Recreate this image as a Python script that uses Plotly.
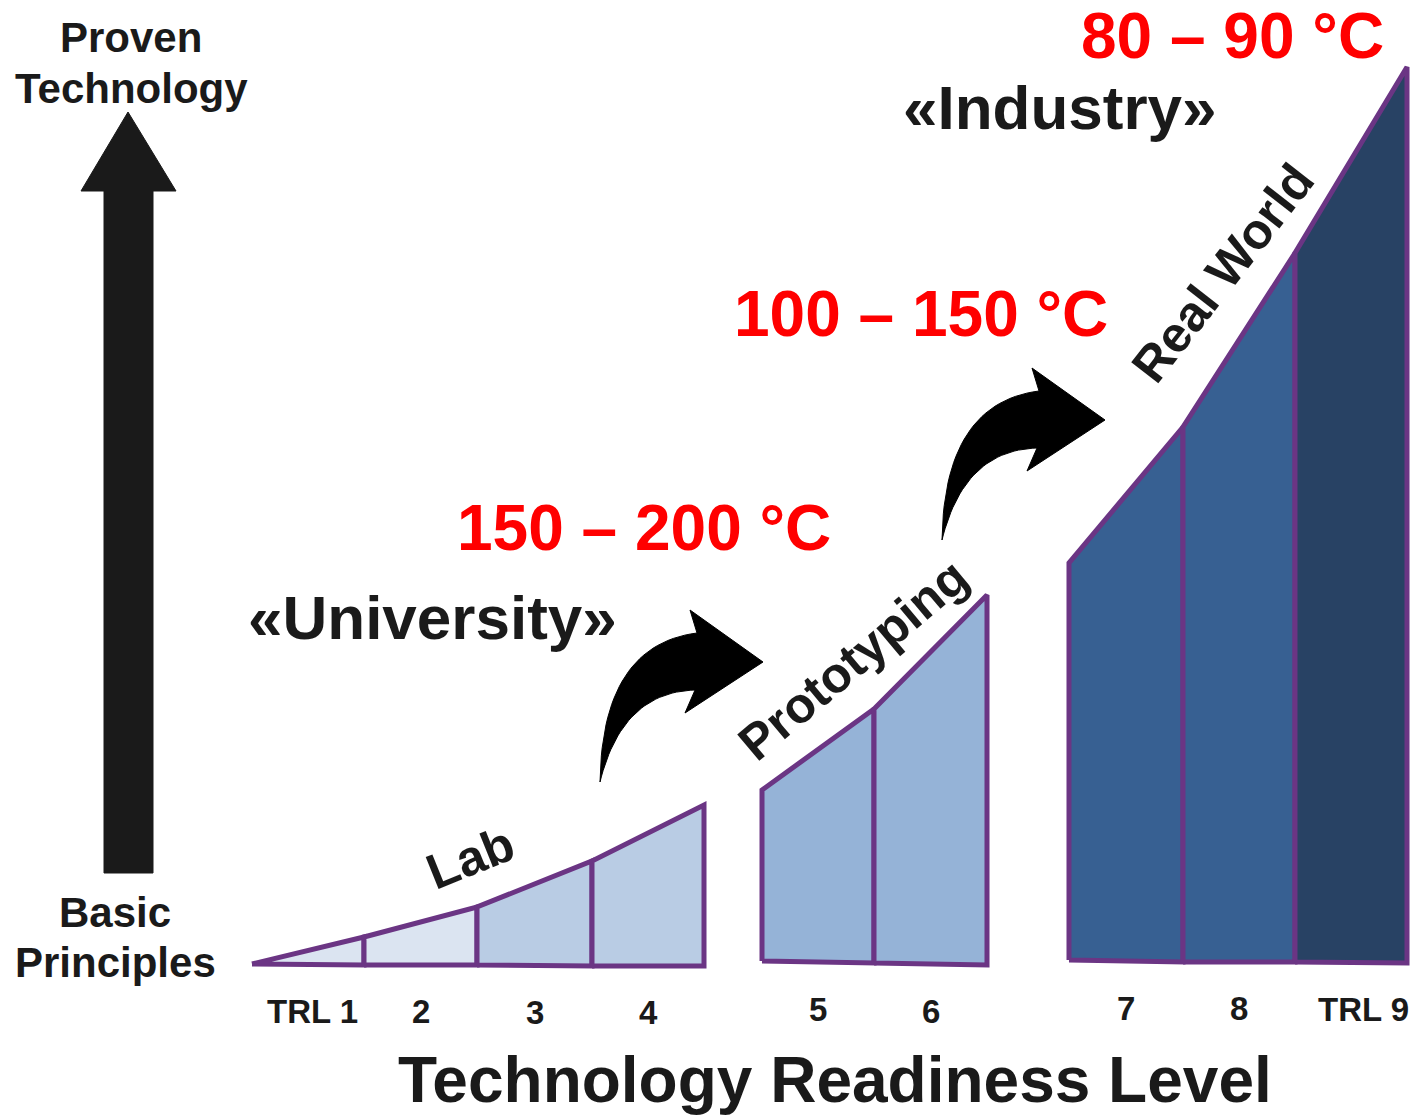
import plotly.graph_objects as go

# --- Technology Readiness Level stages -------------------------------------
trl_labels = ["TRL 1", "2", "3", "4", "5", "6", "7", "8", "TRL 9"]

# Three stage blocks: segment edge positions, top outline and base line
lab_edges = [252, 364, 477, 592, 704]
lab_tops = [964, 937, 907, 861, 805]
lab_base = [964, 965, 965, 966, 966]

proto_edges = [762, 874, 987]
proto_tops = [790, 709, 595]
proto_base = [961, 963, 965]

real_edges = [1069, 1183, 1295, 1407]
real_tops = [563, 427, 253, 67]
real_base = [960, 962, 962, 963]

segment_colors = ["#dbe4f1", "#dbe4f1", "#b9cce4", "#b9cce4",
                  "#95b3d7", "#95b3d7",
                  "#376092", "#376092", "#284264"]

stage_names = ["Lab", "Prototyping", "Real World"]
temperatures = ["150 – 200 °C", "100 – 150 °C", "80 – 90 °C"]
groups = ["«University»", "«Industry»"]
axis_ends = ["Proven", "Technology", "Basic", "Principles"]

OUTLINE = "#6b3584"
INK = "#1a1a1a"
FONT = "Arial, Liberation Sans, sans-serif"

fig = go.Figure()

# Stage polygons, one filled trapezoid per TRL segment
seg = 0
for edges, tops, base in [(lab_edges, lab_tops, lab_base),
                          (proto_edges, proto_tops, proto_base),
                          (real_edges, real_tops, real_base)]:
    for i in range(len(edges) - 1):
        xs = [edges[i], edges[i], edges[i + 1], edges[i + 1], edges[i]]
        ys = [base[i], tops[i], tops[i + 1], base[i + 1], base[i]]
        fig.add_trace(go.Scatter(
            x=xs, y=ys, mode="lines", fill="toself",
            fillcolor=segment_colors[seg],
            line=dict(color=OUTLINE, width=5),
            hoverinfo="skip", showlegend=False))
        # TRL label under the segment (end labels nudged outward)
        cx = (edges[i] + edges[i + 1]) / 2
        if seg == 0:
            cx += 4
        if seg == len(trl_labels) - 1:
            cx += 12
        fig.add_annotation(
            x=cx, y=max(base[i], base[i + 1]) + 46,
            text="<b>%s</b>" % trl_labels[seg], showarrow=False,
            font=dict(family=FONT, size=33, color=INK), xanchor="center",
            yanchor="middle")
        seg += 1

# Vertical "maturity" arrow on the left
fig.add_trace(go.Scatter(
    x=[104, 104, 81, 128, 176, 153, 153, 104],
    y=[873, 191, 191, 112, 191, 191, 873, 873],
    mode="lines", fill="toself", fillcolor=INK,
    line=dict(color=INK, width=1), hoverinfo="skip", showlegend=False))


def bezier(p0, c, p1, n=30):
    pts = []
    for k in range(n + 1):
        t = k / n
        x = (1 - t) ** 2 * p0[0] + 2 * (1 - t) * t * c[0] + t ** 2 * p1[0]
        y = (1 - t) ** 2 * p0[1] + 2 * (1 - t) * t * c[1] + t ** 2 * p1[1]
        pts.append((x, y))
    return pts


def curved_arrow(dx, dy):
    outer = bezier((600, 782), (602, 645), (697, 633))
    head = [(690, 610), (763, 662), (685, 713), (695, 690)]
    inner = bezier((695, 690), (622, 692), (600, 782))
    pts = outer + head + inner
    return [p[0] + dx for p in pts], [p[1] + dy for p in pts]


for dx, dy in [(0, 0), (342, -242)]:
    ax_, ay_ = curved_arrow(dx, dy)
    fig.add_trace(go.Scatter(
        x=ax_, y=ay_, mode="lines", fill="toself", fillcolor="#000000",
        line=dict(color="#000000", width=1), hoverinfo="skip",
        showlegend=False))

# Axis end labels
for txt, x, y in zip(axis_ends, [131, 131, 115, 115], [37, 88, 912, 962]):
    fig.add_annotation(x=x, y=y, text="<b>%s</b>" % txt, showarrow=False,
                       font=dict(family=FONT, size=42, color=INK),
                       xanchor="center", yanchor="middle")

# Stage names along the slopes
for name, x, y, ang in zip(stage_names, [470, 853, 1223], [858, 660, 273],
                           [-22, -40, -52]):
    fig.add_annotation(x=x, y=y, text="<b>%s</b>" % name, showarrow=False,
                       textangle=ang,
                       font=dict(family=FONT, size=50, color=INK),
                       xanchor="center", yanchor="middle")

# Operating temperature ranges
for t, x, y in zip(temperatures, [644, 921, 1232], [528, 314, 36]):
    fig.add_annotation(x=x, y=y, text="<b>%s</b>" % t, showarrow=False,
                       font=dict(family=FONT, size=64, color="#ff0000"),
                       xanchor="center", yanchor="middle")

# Institutional context
for g, x, y in zip(groups, [432, 1060], [617, 107]):
    fig.add_annotation(x=x, y=y, text="<b>%s</b>" % g, showarrow=False,
                       font=dict(family=FONT, size=62, color=INK),
                       xanchor="center", yanchor="middle")

# Horizontal axis title
fig.add_annotation(x=835, y=1080, text="<b>Technology Readiness Level</b>",
                   showarrow=False, font=dict(family=FONT, size=64, color=INK),
                   xanchor="center", yanchor="middle")

fig.update_layout(
    width=1416, height=1118,
    margin=dict(l=0, r=0, t=0, b=0),
    paper_bgcolor="white", plot_bgcolor="white",
    font=dict(family=FONT),
    xaxis=dict(range=[0, 1416], visible=False, fixedrange=True),
    yaxis=dict(range=[1118, 0], visible=False, fixedrange=True),
    showlegend=False,
)

fig.write_html("out.html")
